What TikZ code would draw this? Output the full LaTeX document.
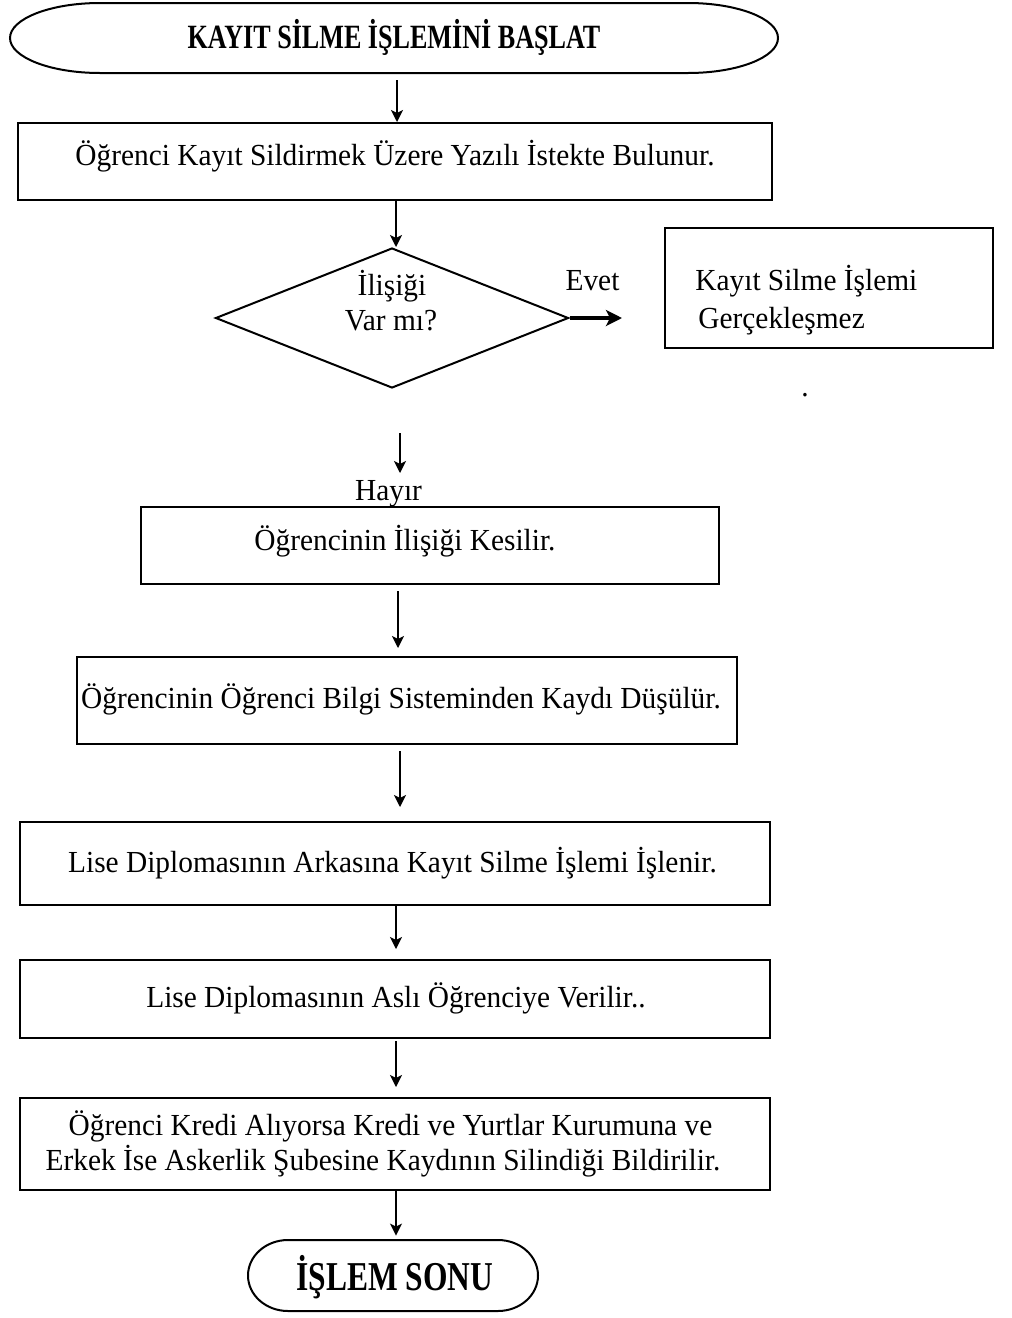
\documentclass[tikz,border=0pt]{standalone}
\usepackage{fontspec}
\setmainfont{Liberation Serif}[FakeStretch=0.96]
\usetikzlibrary{shapes.geometric,arrows.meta,fit}
\begin{document}
\begin{tikzpicture}[x=0.5pt,y=-0.5pt,
  frame/.style={draw, line width=1pt, inner sep=0pt},
  ghost/.style={inner sep=0pt},
  txt/.style={anchor=base, inner sep=0pt, font=\fontsize{15.3pt}{17.5pt}\selectfont},
  txtl/.style={anchor=base west, inner sep=0pt, font=\fontsize{15.3pt}{17.5pt}\selectfont},
  btxt/.style={anchor=base, inner sep=0pt},
  arr/.style={-{Stealth[length=6pt,width=6pt,inset=1.5pt]}, line width=0.8pt},
  thickarr/.style={-{Stealth[length=8pt,width=8pt,inset=2pt]}, line width=1.6pt},
  outline/.style={line width=1pt}]
\useasboundingbox (0,0) rectangle (1012,1318);

% start terminator
\node[ghost, fit={(10,3) (778,73)}] (start) {};
\draw[outline] (100,3) .. controls (50.3,3) and (10,18.7) .. (10,38)
  .. controls (10,57.3) and (50.3,73) .. (100,73) -- (688,73)
  .. controls (737.7,73) and (778,57.3) .. (778,38)
  .. controls (778,18.7) and (737.7,3) .. (688,3) -- cycle;
\node[btxt, font=\bfseries\fontsize{17pt}{20pt}\selectfont] (title) at (394,48) {\scalebox{0.80}[1]{KAYIT SİLME İŞLEMİNİ BAŞLAT}};

% box 1
\node[frame, fit={(18,123) (772,200)}] (b1) {};
\node[txt] (t1) at (395,165) {Öğrenci Kayıt Sildirmek Üzere Yazılı İstekte Bulunur.};

% decision
\node[frame, diamond, minimum width=176.5pt, minimum height=70pt] (dec) at (392,318) {};
\node[txt] (d1) at (392,295) {İlişiği};
\node[txt] (d2) at (391,330) {Var mı?};
\node[txt] (evet) at (592.5,290) {Evet};
\coordinate (evetend) at (622,318);

% right box
\node[frame, fit={(665,228) (993,348)}] (no) {};
\node[txtl] (n1) at (695,290) {Kayıt Silme İşlemi};
\node[txtl] (n2) at (698,328) {Gerçekleşmez};
\node[txt] (dot) at (805,396) {.};

% hayir arrow
\coordinate (h1) at (400,433);
\coordinate (h2) at (400,473);
\node[txt] (hayir) at (388.5,500) {Hayır};

% box 2
\node[frame, fit={(141,507) (719,584)}] (b2) {};
\node[txt] (t2) at (405,550) {Öğrencinin İlişiği Kesilir.};

% box 3
\node[frame, fit={(77,657) (737,744)}] (b3) {};
\node[txt] (t3) at (401,708) {Öğrencinin Öğrenci Bilgi Sisteminden Kaydı Düşülür.};

% box 4
\node[frame, fit={(20,822) (770,905)}] (b4) {};
\node[txt] (t4) at (392.5,872) {Lise Diplomasının Arkasına Kayıt Silme İşlemi İşlenir.};

% box 5
\node[frame, fit={(20,960) (770,1038)}] (b5) {};
\node[txt] (t5) at (396,1007) {Lise Diplomasının Aslı Öğrenciye Verilir..};

% box 6
\node[frame, fit={(20,1098) (770,1190)}] (b6) {};
\node[txt] (t6a) at (390.5,1135) {Öğrenci Kredi Alıyorsa Kredi ve Yurtlar Kurumuna ve};
\node[txt] (t6b) at (383,1170) {Erkek İse Askerlik Şubesine Kaydının Silindiği Bildirilir.};

% end terminator
\node[ghost, fit={(248,1240) (538,1311)}] (end) {};
\draw[outline] (288,1240) .. controls (265.9,1240) and (248,1255.9) .. (248,1275.5)
  .. controls (248,1295.1) and (265.9,1311) .. (288,1311) -- (498,1311)
  .. controls (520.1,1311) and (538,1295.1) .. (538,1275.5)
  .. controls (538,1255.9) and (520.1,1240) .. (498,1240) -- cycle;
\node[btxt, font=\bfseries\fontsize{20.5pt}{24pt}\selectfont] (endtxt) at (395,1290) {\scalebox{0.80}[1]{İŞLEM SONU}};

% connectors
\draw[arr, shorten <=3.5pt] (start.south -| b1.north) ++(2,0) coordinate (s0) -- (s0 |- b1.north);
\draw[arr] (396,0 |- b1.south) -- (396,0 |- dec.north);
\draw[thickarr] (dec.east) -- (evetend);
\draw[arr] (h1) -- (h2);
\draw[arr, shorten <=3pt, shorten >=4pt] (398,0 |- b2.south) -- (398,0 |- b3.north);
\draw[arr, shorten <=3pt, shorten >=7pt] (400,0 |- b3.south) -- (400,0 |- b4.north);
\draw[arr, shorten >=5pt] (396,0 |- b4.south) -- (396,0 |- b5.north);
\draw[arr, shorten <=1pt, shorten >=5pt] (396,0 |- b5.south) -- (396,0 |- b6.north);
\draw[arr, shorten >=2pt] (396,0 |- b6.south) -- (396,0 |- end.north);
\end{tikzpicture}
\end{document}
